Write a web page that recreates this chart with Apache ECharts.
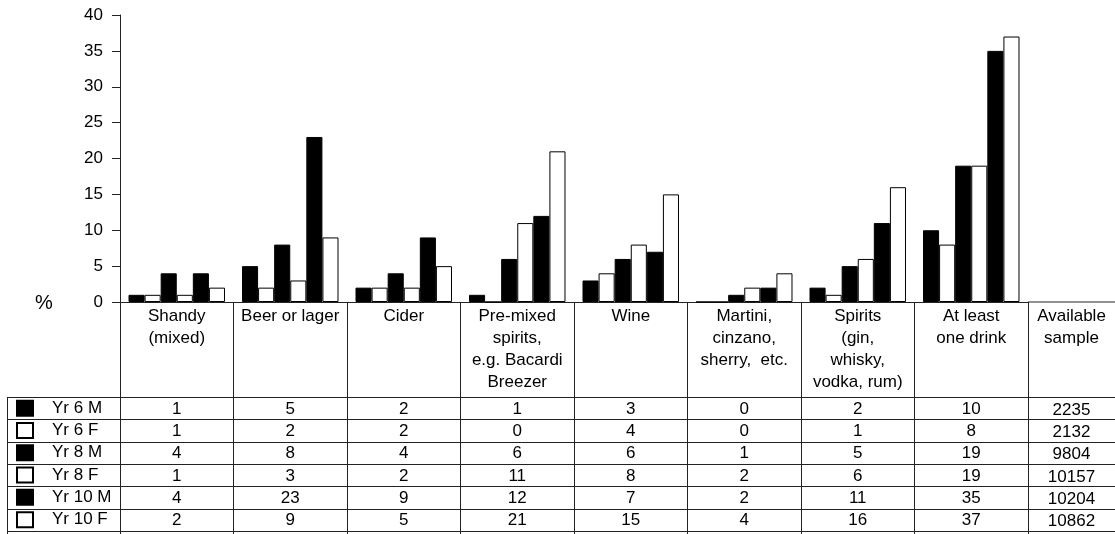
<!DOCTYPE html>
<html><head><meta charset="utf-8">
<script src="https://cdn.jsdelivr.net/npm/echarts@6/dist/echarts.min.js"></script>
<style>html,body{margin:0;padding:0;background:#fff}#c{width:1115px;height:534px}</style>
</head><body><div id="c"></div>
<script>
// ---- data ----
const categories = [
  'Shandy\n(mixed)',
  'Beer or lager',
  'Cider',
  'Pre-mixed\nspirits,\ne.g. Bacardi\nBreezer',
  'Wine',
  'Martini,\ncinzano,\nsherry,  etc.',
  'Spirits\n(gin,\nwhisky,\nvodka, rum)',
  'At least\none drink'
];
const seriesNames = ['Yr 6 M', 'Yr 6 F', 'Yr 8 M', 'Yr 8 F', 'Yr 10 M', 'Yr 10 F'];
const yr6M  = [1, 5, 2, 1, 3, 0, 2, 10];
const yr6F  = [1, 2, 2, 0, 4, 0, 1, 8];
const yr8M  = [4, 8, 4, 6, 6, 1, 5, 19];
const yr8F  = [1, 3, 2, 11, 8, 2, 6, 19];
const yr10M = [4, 23, 9, 12, 7, 2, 11, 35];
const yr10F = [2, 9, 5, 21, 15, 4, 16, 37];
const sampleHeader = 'Available\nsample';
const sampleSizes = [2235, 2132, 9804, 10157, 10204, 10862];
const yMin = 0, yMax = 40, yStep = 5;
const yUnit = '%';

// ---- chart ----
const FONT = "'Liberation Sans', Arial, sans-serif";
const FS = 17;
const seriesData = [yr6M, yr6F, yr8M, yr8F, yr10M, yr10F];
const fills = ['#000', '#fff', '#000', '#fff', '#000', '#fff'];
const chart = echarts.init(document.getElementById('c'), null, {renderer: 'canvas'});
const G = {left: 120, right: 87, top: 15, bottom: 232};
const ROW_TOP = 397, ROW_H = 22.3;
const LINE = '#222';

chart.setOption({
  animation: false,
  backgroundColor: '#fff',
  grid: G,
  xAxis: {
    type: 'category', data: categories,
    axisLine: {lineStyle: {color: LINE, width: 1}},
    axisTick: {show: true, interval: 0, length: 232, lineStyle: {color: LINE, width: 1}},
    axisLabel: {interval: 0, margin: 3, color: '#000', fontSize: FS, lineHeight: 22, fontFamily: FONT}
  },
  yAxis: {
    type: 'value', min: yMin, max: yMax, interval: yStep,
    axisLine: {show: true, lineStyle: {color: LINE, width: 1}},
    axisTick: {show: true, length: 8, lineStyle: {color: LINE}},
    splitLine: {show: false},
    axisLabel: {color: '#000', fontSize: FS, margin: 17, fontFamily: FONT}
  },
  legend: {
    orient: 'vertical', left: 16, top: ROW_TOP, itemWidth: 16, itemHeight: 15, itemGap: 0,
    padding: 0, height: 140,
    icon: 'rect', selectedMode: false,
    data: seriesNames,
    textStyle: {color: '#000', fontSize: FS, lineHeight: ROW_H, fontFamily: FONT, padding: [0, 0, 0, 14]}
  },
  series: seriesNames.map((n, i) => ({
    name: n, type: 'bar', data: seriesData[i],
    barGap: '0%', barCategoryGap: '15%',
    itemStyle: {color: fills[i], borderColor: '#000', borderWidth: 1}
  }))
});

// ---- table (positions derived from the axis) ----
const W = chart.getWidth(), H = chart.getHeight();
const axisY = chart.convertToPixel({yAxisIndex: 0}, 0);
const gridRight = W - G.right;
const colX = categories.map((c, i) => chart.convertToPixel({xAxisIndex: 0}, i));
const sampleX = (gridRight + W) / 2;
const els = [];
els.push({type: 'line', shape: {x1: gridRight, y1: axisY, x2: W, y2: axisY}, style: {stroke: LINE, lineWidth: 1}});
for (let k = 0; k <= seriesNames.length; k++) {
  const y = Math.round(ROW_TOP + k * ROW_H) + 0.5;
  els.push({type: 'line', shape: {x1: 7, y1: y, x2: W, y2: y}, style: {stroke: LINE, lineWidth: 1}});
}
els.push({type: 'line', shape: {x1: 7.5, y1: ROW_TOP, x2: 7.5, y2: H}, style: {stroke: LINE, lineWidth: 1}});
seriesData.forEach((arr, s) => {
  const y = ROW_TOP + s * ROW_H + ROW_H / 2 + 1;
  arr.forEach((v, i) => {
    els.push({type: 'text', x: colX[i], y: y,
      style: {text: String(v), fill: '#000', fontSize: FS, fontFamily: FONT, align: 'center', verticalAlign: 'middle'}});
  });
  els.push({type: 'text', x: sampleX, y: y + 1,
    style: {text: String(sampleSizes[s]), fill: '#000', fontSize: FS, fontFamily: FONT, align: 'center', verticalAlign: 'middle'}});
});
els.push({type: 'text', x: sampleX, y: axisY + 3,
  style: {text: sampleHeader, fill: '#000', fontSize: FS, lineHeight: 22, fontFamily: FONT, align: 'center', verticalAlign: 'top'}});
els.push({type: 'text', x: 44, y: axisY + 1,
  style: {text: yUnit, fill: '#000', fontSize: 20, fontFamily: FONT, align: 'center', verticalAlign: 'middle'}});
chart.setOption({graphic: {elements: els}});
</script>
</body></html>
